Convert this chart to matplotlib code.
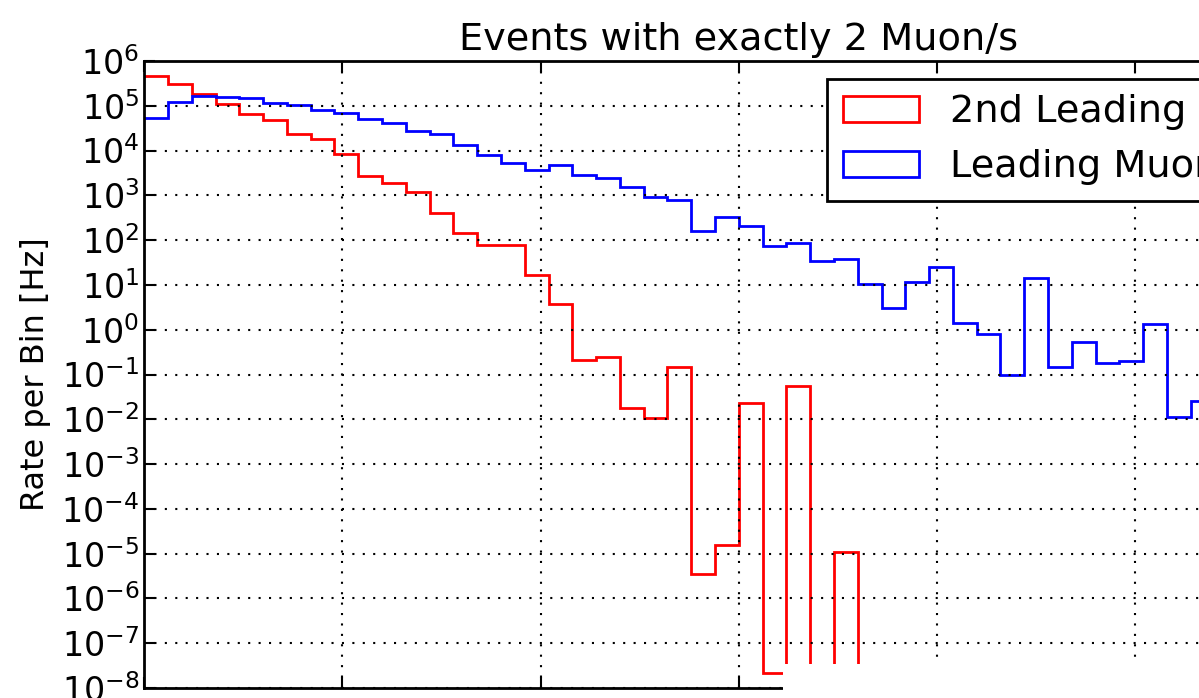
import numpy as np
import matplotlib
matplotlib.use("Agg")
import matplotlib.pyplot as plt
from matplotlib.patches import Rectangle, StepPatch
from matplotlib.legend_handler import HandlerPatch
from matplotlib.ticker import NullLocator

plt.rcParams['font.family'] = ['DejaVu Sans']
plt.rcParams['axes.unicode_minus'] = False

# ---- data ----
bin_width = 6.0
red_label = "2nd Leading Muon"
blue_label = "Leading Muon"

red_values = [4.7e5, 3.0e5, 1.8e5, 1.1e5, 6.7e4, 4.7e4, 2.3e4, 1.8e4, 8.4e3, 2.7e3,
              1.86e3, 1.17e3, 400, 143, 78, 78, 16.7, 3.8, 0.21, 0.243,
              0.018, 0.0109, 0.146, 3.5e-6, 1.55e-5, 0.0236, 2.2e-8, 0.0557, 0.0, 1.1e-5,
              0.0, 0.0, 0.0, 0.0, 0.0, 0.0, 0.0, 0.0, 0.0, 0.0,
              0.0, 0.0, 0.0, 0.0, 0.0, 0.0, 0.0, 0.0, 0.0, 0.0]

blue_values = [5.4e4, 1.24e5, 1.68e5, 1.6e5, 1.47e5, 1.13e5, 1.03e5, 8.1e4, 6.8e4, 5.2e4,
               4.1e4, 2.8e4, 2.4e4, 1.33e4, 8.0e3, 5.3e3, 3.65e3, 4.7e3, 2.85e3, 2.4e3,
               1.54e3, 935, 790, 160, 335, 207, 75, 85, 34, 37,
               10.4, 3.0, 11.5, 24.8, 1.4, 0.79, 0.098, 14.6, 0.146, 0.54,
               0.179, 0.20, 1.35, 0.0115, 0.026]

decades = list(range(-8, 7))
x_grid = [0, 50, 100, 150, 200, 250, 300]

red_edges = np.arange(len(red_values) + 1) * bin_width
blue_edges = np.arange(len(blue_values) + 1) * bin_width

# ---- figure ----
W, H = 1199, 698
fig = plt.figure(figsize=(W / 100, H / 100), dpi=100)
ax = fig.add_axes([144.2 / W, 10 / H, (1333.4 - 144.2) / W, (688 - 61) / H])

ax.stairs(red_values, red_edges, baseline=None, color='red', linewidth=2, label=red_label)
ax.stairs(blue_values, blue_edges, baseline=None, color='blue', linewidth=2, label=blue_label)

ax.set_yscale('log')
ax.set_ylim(1e-8, 1e6)
ax.set_xlim(0, 300)
ax.set_yticks([10.0 ** d for d in decades])
ax.yaxis.set_minor_locator(NullLocator())
ax.set_xticks(x_grid)
ax.xaxis.set_minor_locator(NullLocator())

ax.tick_params(direction='in', length=8, width=1.5, top=True, right=True, labelsize=24)
ax.tick_params(axis='x', labelbottom=False)
for s in ax.spines.values():
    s.set_linewidth(2)

ax.grid(True, which='major', color='black', linestyle=(0, (1, 4)), linewidth=1.5)

ax.set_title("Events with exactly 2 Muon/s", fontsize=27.5, pad=8)
ax.set_ylabel("Rate per Bin [Hz]", fontsize=23, labelpad=7.5)

leg = ax.legend(loc='upper right', bbox_to_anchor=(1 + 4 / 1189, 1 + 1 / 627),
                fontsize=27.5, fancybox=False, framealpha=1,
                edgecolor='black', borderpad=0.4, handlelength=2, handletextpad=0.8,
                borderaxespad=0.5, labelspacing=0.5,
                handler_map={StepPatch: HandlerPatch()})
leg.get_frame().set_linewidth(2)

# blank region at the lower right as in the reference rendering
fig.add_artist(Rectangle((782.7 / W, 0), 1, 34 / H, transform=fig.transFigure,
                         facecolor='white', edgecolor='none', zorder=10))

fig.savefig("out.png", dpi=100)
